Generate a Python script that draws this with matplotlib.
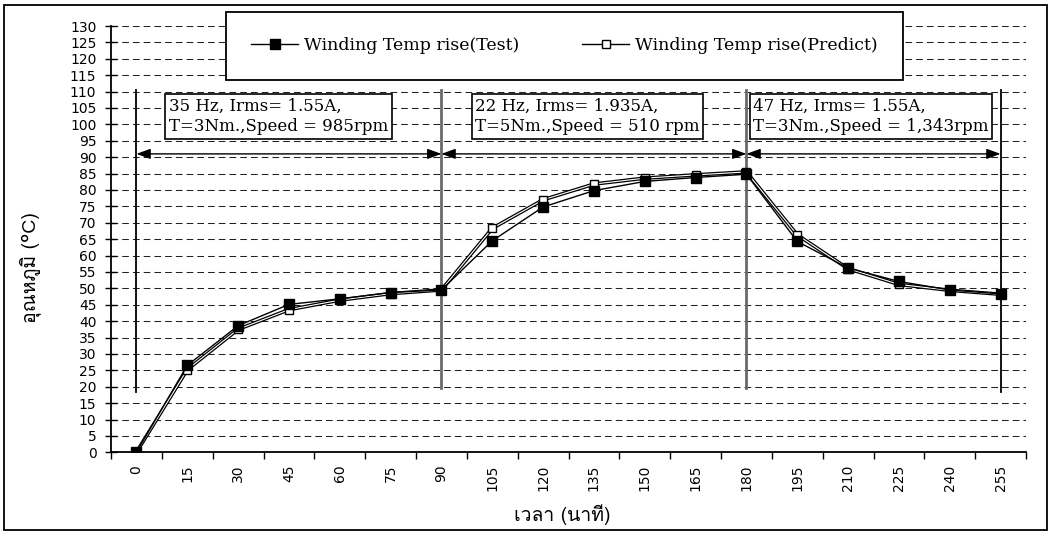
import numpy as np
import matplotlib
matplotlib.use("Agg")
import matplotlib.pyplot as plt
from matplotlib import font_manager
from matplotlib.ft2font import FT2Font
from matplotlib.lines import Line2D
from matplotlib.patches import Rectangle
import matplotlib.patheffects as pe

# ---------------- data ----------------
time_min = [0, 15, 30, 45, 60, 75, 90, 105, 120, 135, 150, 165, 180, 195, 210, 225, 240, 255]
temp_test = [0, 26.5, 38.6, 45.1, 46.8, 48.7, 49.5, 64.5, 74.8, 79.8, 82.6, 83.8, 84.8,
             64.3, 56.2, 52.1, 49.5, 48.3]
temp_predict = [0, 25.2, 37.5, 43.5, 46.4, 48.4, 49.5, 68.3, 77.0, 81.8, 83.6, 84.6, 85.5,
                66.3, 56.0, 51.2, 49.4, 48.2]
section_bounds = [0, 90, 180, 255]
section_labels = ["35 Hz, Irms= 1.55A,\nT=3Nm.,Speed = 985rpm",
                  "22 Hz, Irms= 1.935A,\nT=5Nm.,Speed = 510 rpm",
                  "47 Hz, Irms= 1.55A,\nT=3Nm.,Speed = 1,343rpm"]
y_ticks = list(range(0, 131, 5))
series_names = ["Winding Temp rise(Test)", "Winding Temp rise(Predict)"]
x_label = "เวลา (นาที)"
y_label = "อุณหภูมิ (°C)"


# ---------------- fonts ----------------
def find_thai_fonts():
    names = []
    need = "อุณหภูมิเวลานาที"
    for f in font_manager.fontManager.ttflist:
        if f.name in names:
            continue
        try:
            cmap = FT2Font(f.fname).get_charmap()
        except Exception:
            continue
        if all(ord(c) in cmap for c in need):
            names.append(f.name)
    return names


thai = find_thai_fonts()
thai_family = thai + ["DejaVu Sans"]
serif = "DejaVu Serif"

W, H = 1051, 534
fig = plt.figure(figsize=(W / 100, H / 100), dpi=100)


def fx(px):
    return px / W


def fy(py):
    return 1 - py / H


ax = fig.add_axes([fx(111), fy(452.3), fx(1026) - fx(111), fy(26) - fy(452.3)])
ax.set_xlim(-7.5, 262.5)
ax.set_ylim(0, 130)

# grid
for yv in y_ticks[1:]:
    ax.axhline(yv, color="#222222", lw=0.75, ls=(0, (6.4, 3.9)), zorder=1)

# section vertical lines
for b in section_bounds:
    if b in (0, 255):
        ax.plot([b, b], [18.5, 110.5], color="black", lw=1.3, zorder=2)
    else:
        ax.plot([b, b], [19.5, 110.5], color="#6a6a6a", lw=2.0, zorder=2)

# arrows
for a, b in zip(section_bounds[:-1], section_bounds[1:]):
    ax.annotate("", xy=(b, 91), xytext=(a, 91),
                arrowprops=dict(arrowstyle="<|-|>,head_length=0.6,head_width=0.22",
                                color="black", lw=1.0, shrinkA=0, shrinkB=0,
                                mutation_scale=14), zorder=3)

# section text boxes
box_left = [9.5, 100.0, 182.0]
for xl, lab in zip(box_left, section_labels):
    ax.text(xl, 108.0, lab, ha="left", va="top", fontsize=12, family=serif,
            linespacing=1.25, zorder=4,
            bbox=dict(boxstyle="square,pad=0.22", fc="white", ec="black", lw=1.2))

# series
ax.plot(time_min, temp_predict, color="white", lw=0.8, zorder=5,
        path_effects=[pe.Stroke(linewidth=2.6, foreground="black"), pe.Normal()])
ax.plot(time_min, temp_predict, ls="none", marker="s", ms=6, mfc="white",
        mec="black", mew=1.0, zorder=6)
ax.plot(time_min, temp_test, color="black", lw=1.0, marker="s", ms=7.5,
        mfc="black", mec="black", zorder=7)

# axes styling
for s in ("top", "right"):
    ax.spines[s].set_visible(False)
ax.spines["left"].set_linewidth(1.3)
ax.spines["bottom"].set_linewidth(1.3)

ax.set_yticks(y_ticks)
ax.set_yticklabels([str(v) for v in y_ticks], family="DejaVu Sans", fontsize=10)
ax.tick_params(axis="y", direction="inout", length=9, width=1.0, pad=6)

ax.set_xticks(np.arange(-7.5, 263, 15))
ax.set_xticklabels([])
ax.tick_params(axis="x", which="major", direction="out", length=5, width=1.0)
ax.set_xticks(time_min, minor=True)
ax.set_xticklabels([str(v) for v in time_min], minor=True, rotation=90,
                   family="DejaVu Sans", fontsize=10)
ax.tick_params(axis="x", which="minor", length=0, pad=9)

# axis labels
fig.text(fx(562), fy(515), x_label, ha="center", va="center", fontsize=14,
         family=thai_family)
fig.text(fx(30), fy(268), y_label, ha="center", va="center", rotation=90,
         fontsize=14, family=thai_family)

# legend
h_test = Line2D([], [], color="black", lw=1.0, marker="s", ms=7.5, mfc="black")
h_pred = Line2D([], [], color="black", lw=1.0, marker="s", ms=6, mfc="white", mec="black")
leg = fig.legend([h_test, h_pred], series_names, loc="center",
                 bbox_to_anchor=(fx(564.5), fy(46)), ncol=2, frameon=True,
                 fancybox=False, edgecolor="black", framealpha=1,
                 prop=dict(family=serif, size=12.5), borderpad=1.45,
                 handlelength=2.7, handletextpad=0.35, columnspacing=3.6)
leg.get_frame().set_linewidth(1.3)

# outer border
fig.add_artist(Rectangle((fx(4), fy(530)), fx(1047) - fx(4), fy(5) - fy(530),
                         transform=fig.transFigure, fill=False, lw=1.3,
                         edgecolor="black"))

fig.savefig("out.png", dpi=100)
